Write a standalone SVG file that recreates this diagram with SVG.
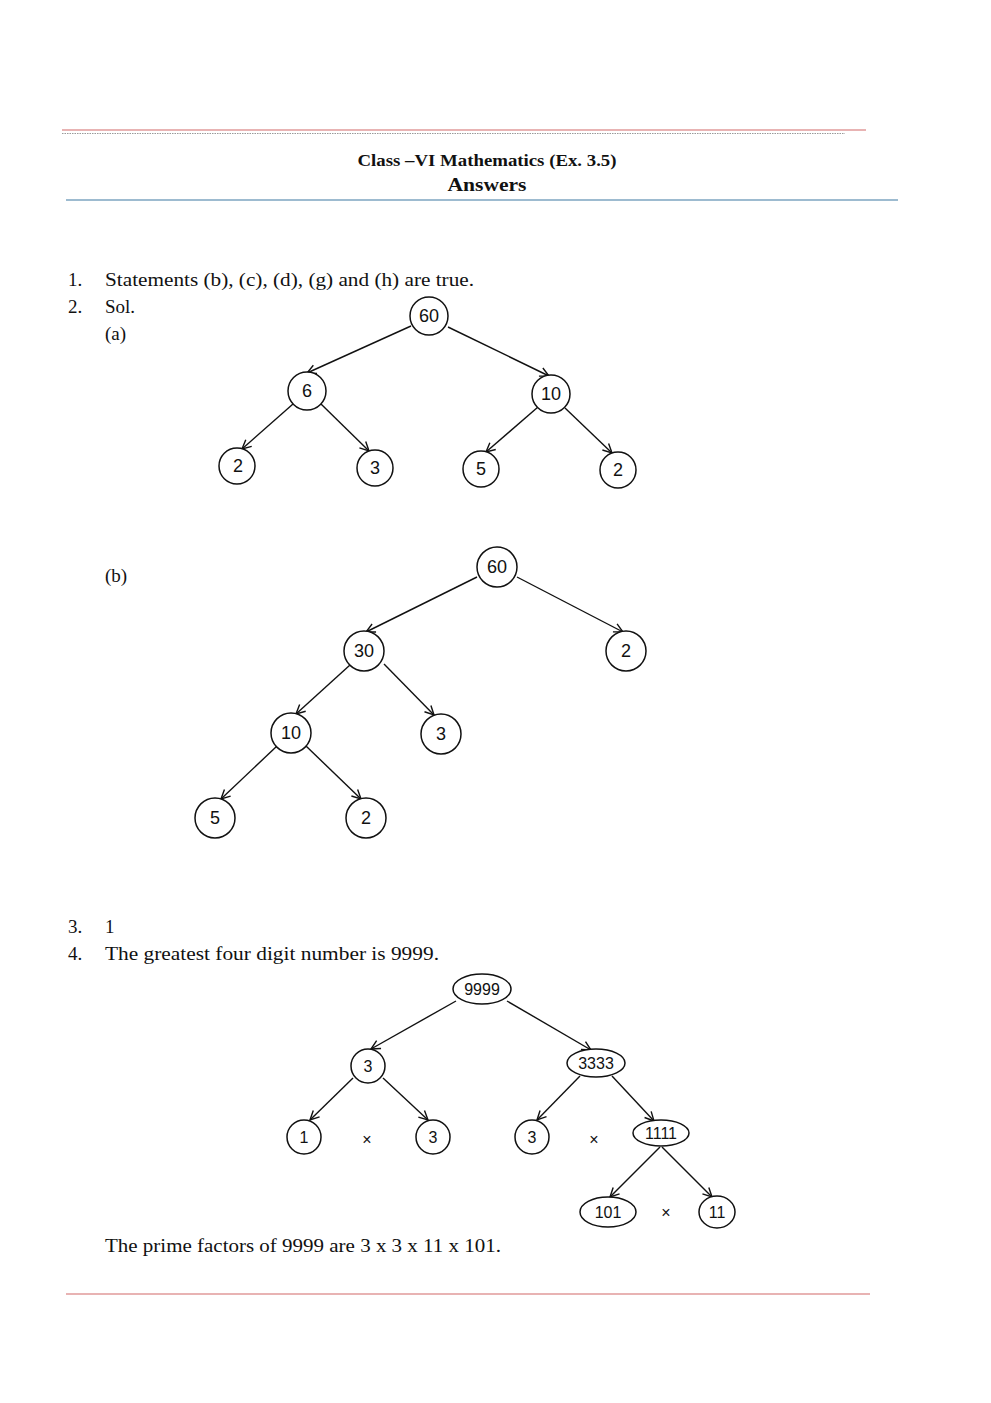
<svg xmlns="http://www.w3.org/2000/svg" width="991" height="1403" viewBox="0 0 991 1403">
<style>
.body{font-family:"Liberation Serif","DejaVu Serif",serif;font-size:19px;fill:#111}
.title{font-family:"Liberation Serif","DejaVu Serif",serif;font-weight:bold;fill:#111}
.nd{fill:#fff;stroke:#111;stroke-width:1.5}
.lb{font-family:"Liberation Sans",Arial,sans-serif;font-size:18px;fill:#111;text-anchor:middle}
.lb4{font-family:"Liberation Sans",Arial,sans-serif;font-size:16px;fill:#111;text-anchor:middle}
.ed{stroke:#111;stroke-width:1.4;fill:none;marker-end:url(#ah)}
</style>
<defs>
<marker id="ah" markerWidth="12" markerHeight="12" refX="10" refY="6" orient="auto" markerUnits="userSpaceOnUse">
<path d="M1,1.5 L10,6 L1,10.5" fill="none" stroke="#111" stroke-width="1.4"/>
</marker>
</defs>
<rect width="991" height="1403" fill="#fff"/>
<g id="header">
<line x1="62" y1="130" x2="866" y2="130" stroke="#e09a9a" stroke-width="1.5"/>
<line x1="62" y1="133.5" x2="845" y2="133.5" stroke="#999" stroke-width="1" stroke-dasharray="1.5,1"/>
<text class="title" x="487" y="166" font-size="17" text-anchor="middle" textLength="259" lengthAdjust="spacingAndGlyphs">Class –VI Mathematics (Ex. 3.5)</text>
<text class="title" x="487" y="191" font-size="18" text-anchor="middle" textLength="79" lengthAdjust="spacingAndGlyphs">Answers</text>
<line x1="66" y1="200" x2="898" y2="200" stroke="#9dbbd0" stroke-width="2"/>
</g>
<g id="text">
<text class="body" x="68" y="286">1.</text>
<text class="body" x="105" y="286" textLength="369" lengthAdjust="spacingAndGlyphs">Statements (b), (c), (d), (g) and (h) are true.</text>
<text class="body" x="68" y="313">2.</text>
<text class="body" x="105" y="313">Sol.</text>
<text class="body" x="105" y="340">(a)</text>
<text class="body" x="105" y="582">(b)</text>
<text class="body" x="68" y="933">3.</text>
<text class="body" x="105" y="933">1</text>
<text class="body" x="68" y="960">4.</text>
<text class="body" x="105" y="960" textLength="334" lengthAdjust="spacingAndGlyphs">The greatest four digit number is 9999.</text>
<text class="body" x="105" y="1252" textLength="396" lengthAdjust="spacingAndGlyphs">The prime factors of 9999 are 3 x 3 x 11 x 101.</text>
</g>
<g id="connectors">
<line class="ed" x1="411" y1="326" x2="307" y2="373"/>
<line class="ed" x1="448" y1="327" x2="549" y2="376"/>
<line class="ed" x1="293" y1="404" x2="242" y2="449"/>
<line class="ed" x1="321" y1="404" x2="369" y2="451"/>
<line class="ed" x1="538" y1="407" x2="486" y2="452"/>
<line class="ed" x1="565" y1="408" x2="612" y2="453"/>
<line class="ed" x1="477" y1="577" x2="366" y2="632"/>
<line class="ed" x1="517" y1="577" x2="623" y2="632"/>
<line class="ed" x1="350" y1="665" x2="296" y2="714"/>
<line class="ed" x1="384" y1="664" x2="434" y2="715"/>
<line class="ed" x1="277" y1="746" x2="221" y2="799"/>
<line class="ed" x1="306" y1="746" x2="361" y2="799"/>
<line class="ed" x1="456" y1="1001" x2="371" y2="1049"/>
<line class="ed" x1="507" y1="1001" x2="591" y2="1050"/>
<line class="ed" x1="353" y1="1078" x2="310" y2="1120"/>
<line class="ed" x1="383" y1="1078" x2="428" y2="1120"/>
<line class="ed" x1="580" y1="1076" x2="537" y2="1120"/>
<line class="ed" x1="612" y1="1076" x2="654" y2="1121"/>
<line class="ed" x1="660" y1="1147" x2="610" y2="1197"/>
<line class="ed" x1="662" y1="1147" x2="712" y2="1197"/>
</g>
<g id="treeA">
<g id="a60"><circle class="nd" cx="429" cy="316" r="19"/><text class="lb" x="429" y="322">60</text></g>
<g id="a6"><circle class="nd" cx="307" cy="391" r="19"/><text class="lb" x="307" y="397">6</text></g>
<g id="a10"><circle class="nd" cx="551" cy="394" r="19"/><text class="lb" x="551" y="400">10</text></g>
<g id="a2l"><circle class="nd" cx="237" cy="466" r="18"/><text class="lb" x="238" y="472">2</text></g>
<g id="a3"><circle class="nd" cx="375" cy="468" r="18"/><text class="lb" x="375" y="474">3</text></g>
<g id="a5"><circle class="nd" cx="481" cy="469" r="18"/><text class="lb" x="481" y="475">5</text></g>
<g id="a2r"><circle class="nd" cx="618" cy="470" r="18"/><text class="lb" x="618" y="476">2</text></g>
</g>
<g id="treeB">
<g id="b60"><circle class="nd" cx="497" cy="567" r="20"/><text class="lb" x="497" y="573">60</text></g>
<g id="b30"><circle class="nd" cx="364" cy="651" r="20"/><text class="lb" x="364" y="657">30</text></g>
<g id="b2r"><circle class="nd" cx="626" cy="651" r="20"/><text class="lb" x="626" y="657">2</text></g>
<g id="b10"><circle class="nd" cx="291" cy="733" r="20"/><text class="lb" x="291" y="739">10</text></g>
<g id="b3"><circle class="nd" cx="441" cy="734" r="20"/><text class="lb" x="441" y="740">3</text></g>
<g id="b5"><circle class="nd" cx="215" cy="818" r="20"/><text class="lb" x="215" y="824">5</text></g>
<g id="b2"><circle class="nd" cx="366" cy="818" r="20"/><text class="lb" x="366" y="824">2</text></g>
</g>
<g id="tree4">
<g id="c9999"><ellipse class="nd" cx="482" cy="989" rx="29" ry="15"/><text class="lb4" x="482" y="995">9999</text></g>
<g id="c3a"><circle class="nd" cx="368" cy="1066" r="17"/><text class="lb4" x="368" y="1072">3</text></g>
<g id="c3333"><ellipse class="nd" cx="596" cy="1063" rx="29" ry="14"/><text class="lb4" x="596" y="1069">3333</text></g>
<g id="c1"><circle class="nd" cx="304" cy="1137" r="17"/><text class="lb4" x="304" y="1143">1</text></g>
<g id="c3b"><circle class="nd" cx="433" cy="1137" r="17"/><text class="lb4" x="433" y="1143">3</text></g>
<g id="c3c"><circle class="nd" cx="532" cy="1137" r="17"/><text class="lb4" x="532" y="1143">3</text></g>
<g id="c1111"><ellipse class="nd" cx="661" cy="1133" rx="28" ry="13"/><text class="lb4" x="661" y="1139">1111</text></g>
<g id="c101"><ellipse class="nd" cx="608" cy="1212" rx="28" ry="15"/><text class="lb4" x="608" y="1218">101</text></g>
<g id="c11"><ellipse class="nd" cx="717" cy="1212" rx="18" ry="16"/><text class="lb4" x="717" y="1218">11</text></g>
<text class="lb4" x="367" y="1145">×</text>
<text class="lb4" x="594" y="1145">×</text>
<text class="lb4" x="666" y="1218">×</text>
</g>
<g id="footer">
<line x1="66" y1="1294" x2="870" y2="1294" stroke="#e09a9a" stroke-width="1.5"/>
</g>
</svg>
